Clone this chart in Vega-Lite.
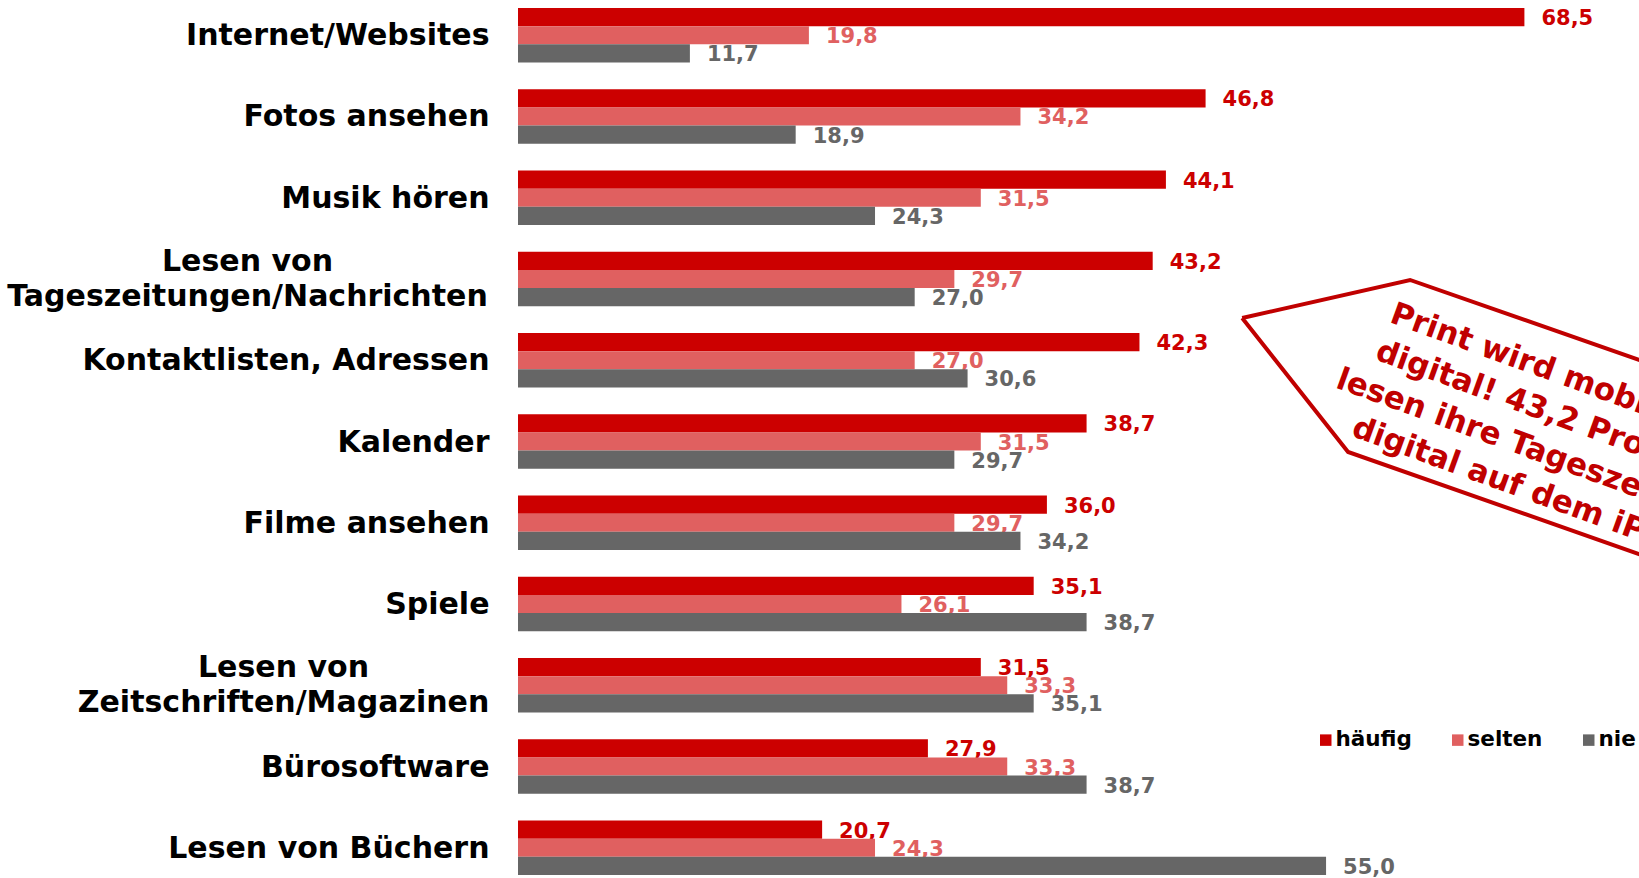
{
  "$schema": "https://vega.github.io/schema/vega-lite/v6.json",
  "width": 1121,
  "height": 867,
  "autosize": "none",
  "padding": {"left": 518, "top": 8, "right": 0, "bottom": 3},
  "background": "white",
  "config": {
    "view": {"stroke": null},
    "font": "DejaVu Sans",
    "locale": {"number": {"decimal": ",", "thousands": ".", "grouping": [3], "currency": ["", " €"]}}
  },
  "datasets": {
    "main": [
      {"item": "Internet/Websites", "series": "häufig", "value": 68.5},
      {"item": "Internet/Websites", "series": "selten", "value": 19.8},
      {"item": "Internet/Websites", "series": "nie", "value": 11.7},
      {"item": "Fotos ansehen", "series": "häufig", "value": 46.8},
      {"item": "Fotos ansehen", "series": "selten", "value": 34.2},
      {"item": "Fotos ansehen", "series": "nie", "value": 18.9},
      {"item": "Musik hören", "series": "häufig", "value": 44.1},
      {"item": "Musik hören", "series": "selten", "value": 31.5},
      {"item": "Musik hören", "series": "nie", "value": 24.3},
      {"item": "Lesen von Tageszeitungen/Nachrichten", "series": "häufig", "value": 43.2},
      {"item": "Lesen von Tageszeitungen/Nachrichten", "series": "selten", "value": 29.7},
      {"item": "Lesen von Tageszeitungen/Nachrichten", "series": "nie", "value": 27.0},
      {"item": "Kontaktlisten, Adressen", "series": "häufig", "value": 42.3},
      {"item": "Kontaktlisten, Adressen", "series": "selten", "value": 27.0},
      {"item": "Kontaktlisten, Adressen", "series": "nie", "value": 30.6},
      {"item": "Kalender", "series": "häufig", "value": 38.7},
      {"item": "Kalender", "series": "selten", "value": 31.5},
      {"item": "Kalender", "series": "nie", "value": 29.7},
      {"item": "Filme ansehen", "series": "häufig", "value": 36.0},
      {"item": "Filme ansehen", "series": "selten", "value": 29.7},
      {"item": "Filme ansehen", "series": "nie", "value": 34.2},
      {"item": "Spiele", "series": "häufig", "value": 35.1},
      {"item": "Spiele", "series": "selten", "value": 26.1},
      {"item": "Spiele", "series": "nie", "value": 38.7},
      {"item": "Lesen von Zeitschriften/Magazinen", "series": "häufig", "value": 31.5},
      {"item": "Lesen von Zeitschriften/Magazinen", "series": "selten", "value": 33.3},
      {"item": "Lesen von Zeitschriften/Magazinen", "series": "nie", "value": 35.1},
      {"item": "Bürosoftware", "series": "häufig", "value": 27.9},
      {"item": "Bürosoftware", "series": "selten", "value": 33.3},
      {"item": "Bürosoftware", "series": "nie", "value": 38.7},
      {"item": "Lesen von Büchern", "series": "häufig", "value": 20.7},
      {"item": "Lesen von Büchern", "series": "selten", "value": 24.3},
      {"item": "Lesen von Büchern", "series": "nie", "value": 55.0}
    ],
    "shape": [
      {"k": 0, "x": 49.29, "y": 3.815},
      {"k": 1, "x": 60.72, "y": 3.347},
      {"k": 2, "x": 83.87, "y": 4.808},
      {"k": 3, "x": 83.87, "y": 7.2},
      {"k": 4, "x": 56.5, "y": 5.464},
      {"k": 5, "x": 49.29, "y": 3.815}
    ],
    "note": [
      {"x": 70.9, "y": 4.51, "t": "Print wird mobil und\ndigital! 43,2 Prozent\nlesen ihre Tageszeitung\ndigital auf dem iPad"}
    ]
  },
  "layer": [
    {
      "data": {"name": "main"},
      "encoding": {
        "y": {
          "field": "item", "type": "nominal", "sort": null,
          "scale": {"paddingInner": 0.33, "paddingOuter": 0},
          "axis": {
            "title": null, "domain": false, "ticks": false, "tickSize": 0,
            "labelFont": "DejaVu Sans", "labelFontWeight": "bold", "labelFontSize": 30,
            "labelColor": "black", "labelLineHeight": 35, "labelLimit": 800, "labelOverlap": false,
            "labelExpr": "datum.value == 'Lesen von Tageszeitungen/Nachrichten' ? ['Lesen von', 'Tageszeitungen/Nachrichten'] : datum.value == 'Lesen von Zeitschriften/Magazinen' ? ['Lesen von', 'Zeitschriften/Magazinen'] : datum.value",
            "labelAlign": {"condition": {"test": "datum.value == 'Lesen von Tageszeitungen/Nachrichten' || datum.value == 'Lesen von Zeitschriften/Magazinen'", "value": "center"}, "value": "right"},
            "labelPadding": {"condition": [
              {"test": "datum.value == 'Lesen von Tageszeitungen/Nachrichten'", "value": 271},
              {"test": "datum.value == 'Lesen von Zeitschriften/Magazinen'", "value": 235}
            ], "value": 29},
            "labelOffset": {"condition": {"test": "datum.value == 'Lesen von Tageszeitungen/Nachrichten' || datum.value == 'Lesen von Zeitschriften/Magazinen'", "value": -17}, "value": 1}
          }
        },
        "yOffset": {"field": "series", "type": "nominal", "scale": {"domain": ["häufig", "selten", "nie"], "paddingInner": 0, "paddingOuter": 0}},
        "x": {"field": "value", "type": "quantitative", "scale": {"domain": [0, 76.3], "nice": false}, "axis": null},
        "color": {
          "field": "series", "type": "nominal",
          "scale": {"domain": ["häufig", "selten", "nie"], "range": ["#CC0000", "#E06060", "#666666"]},
          "legend": {
            "orient": "none", "legendX": 797, "legendY": 721, "direction": "horizontal",
            "title": null, "symbolType": "square", "symbolSize": 132, "symbolStrokeWidth": 0,
            "labelFont": "DejaVu Sans", "labelFontSize": 21.5, "labelFontWeight": "bold",
            "labelColor": "black", "columnPadding": 35, "labelOffset": -1, "padding": 0
          }
        }
      },
      "layer": [
        {"transform": [{"filter": "datum.series == 'häufig'"}], "mark": {"type": "bar"}},
        {"transform": [{"filter": "datum.series == 'häufig'"}], "mark": {"type": "text", "align": "left", "baseline": "middle", "dx": 17, "dy": 2, "fontSize": 21, "fontWeight": "bold", "font": "DejaVu Sans"}, "encoding": {"text": {"field": "value", "type": "quantitative", "format": ".1f"}}},
        {"transform": [{"filter": "datum.series == 'selten'"}], "mark": {"type": "bar"}},
        {"transform": [{"filter": "datum.series == 'selten'"}], "mark": {"type": "text", "align": "left", "baseline": "middle", "dx": 17, "dy": 2, "fontSize": 21, "fontWeight": "bold", "font": "DejaVu Sans"}, "encoding": {"text": {"field": "value", "type": "quantitative", "format": ".1f"}}},
        {"transform": [{"filter": "datum.series == 'nie'"}], "mark": {"type": "bar"}},
        {"transform": [{"filter": "datum.series == 'nie'"}], "mark": {"type": "text", "align": "left", "baseline": "middle", "dx": 17, "dy": 2, "fontSize": 21, "fontWeight": "bold", "font": "DejaVu Sans"}, "encoding": {"text": {"field": "value", "type": "quantitative", "format": ".1f"}}}
      ]
    },
    {
      "data": {"name": "shape"},
      "mark": {"type": "line", "color": "#C00000", "strokeWidth": 4, "strokeJoin": "miter", "clip": false},
      "encoding": {
        "x": {"field": "x", "type": "quantitative", "scale": {"domain": [0, 76.3], "nice": false}, "axis": null},
        "y": {"field": "y", "type": "quantitative", "scale": {"domain": [0, 10.67], "reverse": true, "nice": false, "zero": false}, "axis": null},
        "order": {"field": "k", "type": "quantitative"}
      }
    },
    {
      "data": {"name": "note"},
      "mark": {"type": "text", "angle": 20, "align": "center", "baseline": "middle", "lineBreak": "\n", "lineHeight": 40, "fontSize": 31, "fontWeight": "bold", "font": "DejaVu Sans", "color": "#C00000"},
      "encoding": {
        "x": {"field": "x", "type": "quantitative", "scale": {"domain": [0, 76.3], "nice": false}, "axis": null},
        "y": {"field": "y", "type": "quantitative", "scale": {"domain": [0, 10.67], "reverse": true, "nice": false, "zero": false}, "axis": null},
        "text": {"field": "t", "type": "nominal"}
      }
    }
  ],
  "resolve": {"scale": {"y": "independent"}}
}
